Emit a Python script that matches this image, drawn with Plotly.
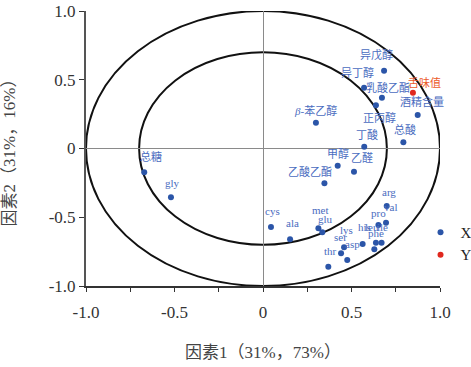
import plotly.graph_objects as go

# ---- data ----
x_names = ["异戊醇", "异丁醇", "乳酸乙酯", "正丙醇", "酒精含量", "总酸", "丁酸",
           "<i>β</i>-苯乙醇", "甲醇", "乙醛", "乙酸乙酯", "总糖", "gly", "cys", "ala",
           "met", "glu", "arg", "val", "pro", "his", "leu", "ile", "phe",
           "lys", "ser", "asp", "thr"]
x_f1 = [0.684, 0.571, 0.672, 0.638, 0.874, 0.793, 0.572,
        0.299, 0.422, 0.514, 0.347, -0.671, -0.520, 0.045, 0.153,
        0.313, 0.335, 0.699, 0.695, 0.652, 0.563, 0.638, 0.670, 0.629,
        0.458, 0.441, 0.476, 0.369]
x_f2 = [0.566, 0.442, 0.369, 0.314, 0.244, 0.045, 0.013,
        0.188, -0.125, -0.169, -0.253, -0.173, -0.355, -0.571, -0.660,
        -0.580, -0.609, -0.418, -0.540, -0.556, -0.695, -0.685, -0.685, -0.733,
        -0.719, -0.762, -0.811, -0.860]
y_names = ["舌味值"]
y_f1 = [0.847]
y_f2 = [0.406]

tick_vals = [-1.0, -0.75, -0.5, -0.25, 0, 0.25, 0.5, 0.75, 1.0]
tick_text = ["-1.0", "", "-0.5", "", "0", "", "0.5", "", "1.0"]
ytick_vals = [-1.0, -0.5, 0, 0.5, 1.0]
ytick_text = ["-1.0", "-0.5", "0", "0.5", "1.0"]
circle_radii = [1.0, 0.7]

# ---- label offsets (pixels, style only) ----
x_dx = [-8, -7, 6, 4, 4, 2, 3, 0, 0, 8, -14, 7, 2, 2, 2, 2, 3, 2, 4, 0, 2, -4, 1, 2, 2, -1, 5, 2]
x_dy = [16, 15, 10, -12, 13, 13, 12, 12, 12, 14, 12, 16, 14, 16, 16, 18, 13, 14, 16, 12, 17, 16, 16, 16, 17, 16, 16, 16]
y_dx = [12]
y_dy = [10]

BLUE = "#2b55a8"
BLUE_TXT = "#4a6cc0"
RED = "#e0281e"
RED_TXT = "#ec5a2a"
FONT = "Liberation Serif, Noto Sans CJK SC, serif"

fig = go.Figure()
fig.add_trace(go.Scatter(x=x_f1, y=x_f2, mode="markers", name="X",
                         marker=dict(color=BLUE, size=6), hoverinfo="text",
                         text=x_names))
fig.add_trace(go.Scatter(x=y_f1, y=y_f2, mode="markers", name="Y",
                         marker=dict(color=RED, size=6), hoverinfo="text",
                         text=y_names))

for r in circle_radii:
    fig.add_shape(type="circle", xref="x", yref="y", x0=-r, x1=r, y0=-r, y1=r,
                  line=dict(color="#111111", width=2), layer="below")

annots = []
for n, xv, yv, dx, dy in zip(x_names, x_f1, x_f2, x_dx, x_dy):
    annots.append(dict(x=xv, y=yv, text=n, showarrow=False, xshift=dx, yshift=dy,
                       font=dict(family=FONT, size=11, color=BLUE_TXT)))
for n, xv, yv, dx, dy in zip(y_names, y_f1, y_f2, y_dx, y_dy):
    annots.append(dict(x=xv, y=yv, text=n, showarrow=False, xshift=dx, yshift=dy,
                       font=dict(family=FONT, size=11, color=RED_TXT)))

fig.update_layout(
    width=471, height=367,
    margin=dict(l=86, r=31, t=11, b=81, autoexpand=False),
    paper_bgcolor="white", plot_bgcolor="white",
    font=dict(family=FONT, size=17, color="#333333"),
    annotations=annots,
    showlegend=True,
    legend=dict(x=0.945, xanchor="left", y=0.255, yanchor="top",
                font=dict(family=FONT, size=15, color="#222222"),
                bgcolor="rgba(0,0,0,0)", tracegroupgap=0, itemwidth=30),
    xaxis=dict(range=[-1, 1], tickvals=tick_vals, ticktext=tick_text,
               showgrid=False, zeroline=True, zerolinecolor="#8a8a8a", zerolinewidth=1,
               showline=True, linecolor="#333333", linewidth=2,
               ticks="outside", ticklen=4, tickcolor="#333333", automargin=False,
               ticklabelstandoff=6,
               title=dict(text="因素1（31%，73%）", standoff=25,
                          font=dict(family=FONT, size=17, color="#444444"))),
    yaxis=dict(range=[-1, 1], tickvals=ytick_vals, ticktext=ytick_text,
               showgrid=False, zeroline=True, zerolinecolor="#8a8a8a", zerolinewidth=1,
               showline=True, linecolor="#555555", linewidth=2,
               ticks="outside", ticklen=5, tickcolor="#333333", automargin=False,
               title=dict(text="因素2（31%，16%）", standoff=29,
                          font=dict(family=FONT, size=17, color="#444444"))),
)

fig.write_html("out.html", config={"displayModeBar": False},
               post_script="document.body.style.margin='0';document.body.style.overflow='hidden';")
